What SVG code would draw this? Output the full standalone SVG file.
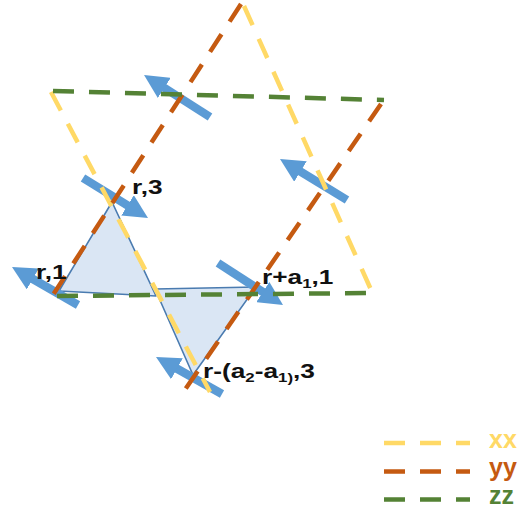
<svg xmlns="http://www.w3.org/2000/svg" width="522" height="515" viewBox="0 0 522 515">
<style>
.dash{fill:none;stroke-width:4.5;stroke-dasharray:21 15}
.xx{stroke:#ffd966}.yy{stroke:#c55a11}.zz{stroke:#548235}
.tri{fill:#dae6f4;stroke:#4a7bb0;stroke-width:1.6;stroke-linejoin:round}
.arr{stroke:#5b9bd5;stroke-width:8.5;fill:none;marker-end:url(#ah)}
.lbl{font-family:"Liberation Sans",Arial,sans-serif;font-weight:bold;font-size:21px;fill:#111}
.sub{font-size:13.5px}
.leg{font-family:"Liberation Sans",Arial,sans-serif;font-weight:bold;font-size:25px}
</style>
<defs>
<marker id="ah" markerUnits="userSpaceOnUse" markerWidth="24" markerHeight="24" refX="9" refY="12" orient="auto" viewBox="0 0 24 24">
<path d="M0,0 L24,12 L0,24 z" fill="#5b9bd5"/>
</marker>
</defs>
<g id="triangles">
<g id="tri1"><polygon class="tri" points="112,202 59,291 156,296"/></g>
<g id="tri2"><polygon class="tri" points="155,289 256,287 193,375"/></g>
</g>
<g id="arrows">
<line class="arr" x1="210" y1="117" x2="156.7" y2="83"/>
<line class="arr" x1="347" y1="200" x2="292.8" y2="166.8"/>
<line class="arr" x1="83" y1="178" x2="135.2" y2="210.1"/>
<line class="arr" x1="78" y1="305" x2="25" y2="274.5"/>
<line class="arr" x1="218" y1="263" x2="270.4" y2="296.9"/>
<line class="arr" x1="222" y1="394" x2="169.1" y2="364.3"/>
</g>
<g id="connectors">
<path class="dash xx" d="M244,6 L372,292"/>
<path class="dash xx" d="M51,92 L210,392"/>
<path class="dash yy" d="M241,4 L51,298"/>
<path class="dash yy" d="M381,104 L182,394"/>
<path class="dash zz" d="M53,91 L384,100"/>
<path class="dash zz" d="M57,296 L371,293"/>
</g>
<g id="labels">
<text class="lbl" transform="translate(132,194) scale(1.25,1)">r,3</text>
<text class="lbl" transform="translate(36,279) scale(1.25,1)">r,1</text>
<text class="lbl" transform="translate(262,284) scale(1.25,1)">r+a<tspan class="sub" dy="4">1</tspan><tspan dy="-4">,1</tspan></text>
<text class="lbl" transform="translate(203,378) scale(1.25,1)">r-(a<tspan class="sub" dy="4">2</tspan><tspan dy="-4">-a</tspan><tspan class="sub" dy="4">1)</tspan><tspan dy="-4">,3</tspan></text>
</g>
<g id="legend">
<path class="dash xx" d="M384,443 H470"/>
<path class="dash yy" d="M384,471.5 H470"/>
<path class="dash zz" d="M384,499.5 H470"/>
<text class="leg" x="489" y="448" fill="#ffd966">xx</text>
<text class="leg" x="489" y="476" fill="#c55a11">yy</text>
<text class="leg" x="489" y="504" fill="#548235">zz</text>
</g>
</svg>
